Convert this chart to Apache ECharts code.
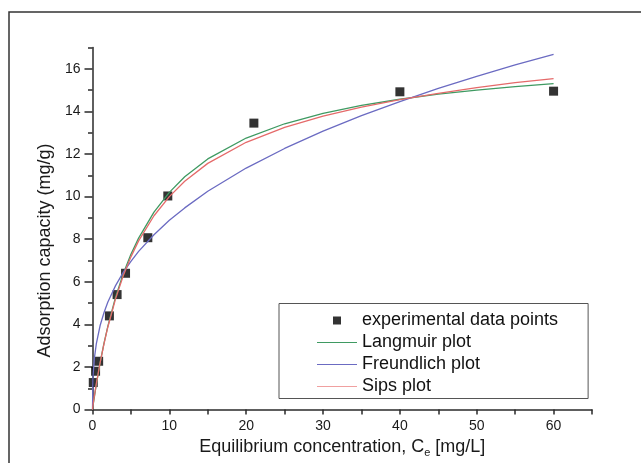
<!DOCTYPE html>
<html>
<head>
<meta charset="utf-8">
<script src="https://cdn.jsdelivr.net/npm/echarts@6/dist/echarts.min.js"></script>
<style>
  html, body { margin: 0; padding: 0; background: #fff; }
  #chart { width: 641px; height: 463px; }
</style>
</head>
<body>
<div id="chart"></div>
<script>
// Experimental equilibrium data
const ceExp = [0.1, 0.4, 0.8, 2.2, 3.2, 4.3, 7.2, 9.8, 21, 40, 60];
const qeExp = [1.27, 1.8, 2.27, 4.4, 5.4, 6.4, 8.07, 10.03, 13.45, 14.92, 14.95];

// Fitted isotherm curves, sampled along Ce
const ceFit = [0, 0.05, 0.1, 0.25, 0.5, 1, 1.5, 2, 3, 4, 5, 6, 8, 10, 12, 15, 20, 25, 30, 35, 40, 45, 50, 55, 60];
const qLangmuir = [0, 0.13, 0.25, 0.61, 1.19, 2.22, 3.12, 3.92, 5.28, 6.38, 7.29, 8.05, 9.27, 10.2, 10.93, 11.77, 12.75, 13.42, 13.91, 14.28, 14.57, 14.81, 15.0, 15.16, 15.3];
const qFreundlich = [0, 1.38, 1.76, 2.43, 3.1, 3.96, 4.56, 5.05, 5.82, 6.44, 6.96, 7.43, 8.21, 8.89, 9.47, 10.25, 11.34, 12.26, 13.07, 13.8, 14.46, 15.08, 15.64, 16.18, 16.68];
const qSips = [0, 0.15, 0.3, 0.66, 1.22, 2.22, 3.1, 3.88, 5.2, 6.28, 7.17, 7.92, 9.1, 10.0, 10.72, 11.56, 12.55, 13.25, 13.78, 14.2, 14.55, 14.85, 15.12, 15.35, 15.54];

// Tick labels
const xTickLabels = [0, 10, 20, 30, 40, 50, 60];
const yTickLabels = [0, 2, 4, 6, 8, 10, 12, 14, 16];
const yMinorTicks = [0, 1, 2, 3, 4, 5, 6, 7, 8, 9, 10, 11, 12, 13, 14, 15, 16, 17];

const seriesNames = ['experimental data points', 'Langmuir plot', 'Freundlich plot', 'Sips plot'];

const pair = (xs, ys) => xs.map((x, i) => [x, ys[i]]);

const FONT = '"Liberation Sans", Arial, sans-serif';
const AXIS_COLOR = '#2a2a2a';
const LINE_ICON = 'path://M0,0H40V1H0Z';

const chart = echarts.init(document.getElementById('chart'), null, { renderer: 'canvas' });

chart.setOption({
  backgroundColor: '#ffffff',
  animation: false,
  textStyle: { fontFamily: FONT, color: '#1a1a1a' },
  graphic: [{
    type: 'rect',
    shape: { x: 9, y: 12, width: 700, height: 520 },
    style: { fill: null, stroke: '#333', lineWidth: 1.5 },
    silent: true
  }],
  grid: { left: 92.5, right: 49, top: 47.5, bottom: 49, containLabel: false },
  legend: {
    orient: 'vertical',
    left: 279,
    top: 303.5,
    padding: [8, 30, 3, 38],
    itemGap: 4,
    itemWidth: 40,
    itemHeight: 8,
    symbolKeepAspect: true,
    borderColor: '#555',
    borderWidth: 1,
    textStyle: { fontFamily: FONT, fontSize: 18, color: '#111', lineHeight: 18 },
    data: [
      { name: seriesNames[0], icon: 'path://M0,0H10V10H0Z' },
      { name: seriesNames[1], icon: LINE_ICON },
      { name: seriesNames[2], icon: LINE_ICON },
      { name: seriesNames[3], icon: LINE_ICON }
    ]
  },
  xAxis: {
    type: 'value',
    min: 0, max: 65, interval: 5,
    name: 'Equilibrium concentration, C{sub|e} [mg/L]',
    nameLocation: 'middle',
    nameGap: 25,
    nameTextStyle: {
      fontFamily: FONT, fontSize: 18, color: '#1a1a1a',
      rich: { sub: { fontSize: 11, verticalAlign: 'bottom', padding: [10, 0, 0, 0], fontFamily: FONT, color: '#1a1a1a' } }
    },
    axisLine: { show: true, lineStyle: { color: AXIS_COLOR, width: 1.5 } },
    axisTick: { show: true, length: 5, lineStyle: { color: AXIS_COLOR, width: 1.5 } },
    axisLabel: { customValues: xTickLabels, fontSize: 14, margin: 10, color: '#1a1a1a', fontFamily: FONT },
    splitLine: { show: false }
  },
  yAxis: [{
    type: 'value',
    min: 0, max: 17,
    position: 'left',
    axisLine: { show: true, lineStyle: { color: AXIS_COLOR, width: 1.5 } },
    axisTick: { show: true, customValues: yMinorTicks, length: 4.5, lineStyle: { color: AXIS_COLOR, width: 1.5 } },
    axisLabel: { show: false },
    splitLine: { show: false }
  }, {
    type: 'value',
    min: 0, max: 17,
    position: 'left',
    name: 'Adsorption capacity (mg/g)',
    nameLocation: 'middle',
    nameGap: 33,
    nameTextStyle: { fontFamily: FONT, fontSize: 18, color: '#1a1a1a', padding: [0, 44, 0, 0] },
    axisLine: { show: false },
    axisTick: { show: true, customValues: yTickLabels, length: 8, lineStyle: { color: AXIS_COLOR, width: 1.5 } },
    axisLabel: { customValues: yTickLabels, fontSize: 14, margin: 12, color: '#1a1a1a', fontFamily: FONT },
    splitLine: { show: false }
  }],
  series: [{
    name: seriesNames[0],
    type: 'scatter',
    symbol: 'rect',
    symbolSize: 9,
    itemStyle: { color: '#000' },
    data: pair(ceExp, qeExp),
    z: 2
  }, {
    name: seriesNames[1],
    type: 'line',
    symbol: 'none',
    smooth: false,
    lineStyle: { color: '#3f9a62', width: 1.3 },
    itemStyle: { color: '#3f9a62' },
    data: pair(ceFit, qLangmuir),
    z: 3
  }, {
    name: seriesNames[2],
    type: 'line',
    symbol: 'none',
    smooth: false,
    lineStyle: { color: '#6b6bc2', width: 1.3 },
    itemStyle: { color: '#6b6bc2' },
    data: pair(ceFit, qFreundlich),
    z: 3
  }, {
    name: seriesNames[3],
    type: 'line',
    symbol: 'none',
    smooth: false,
    lineStyle: { color: '#e56a6a', width: 1.3 },
    itemStyle: { color: '#f0a0a0' },
    data: pair(ceFit, qSips),
    z: 3
  }]
});
</script>
</body>
</html>
